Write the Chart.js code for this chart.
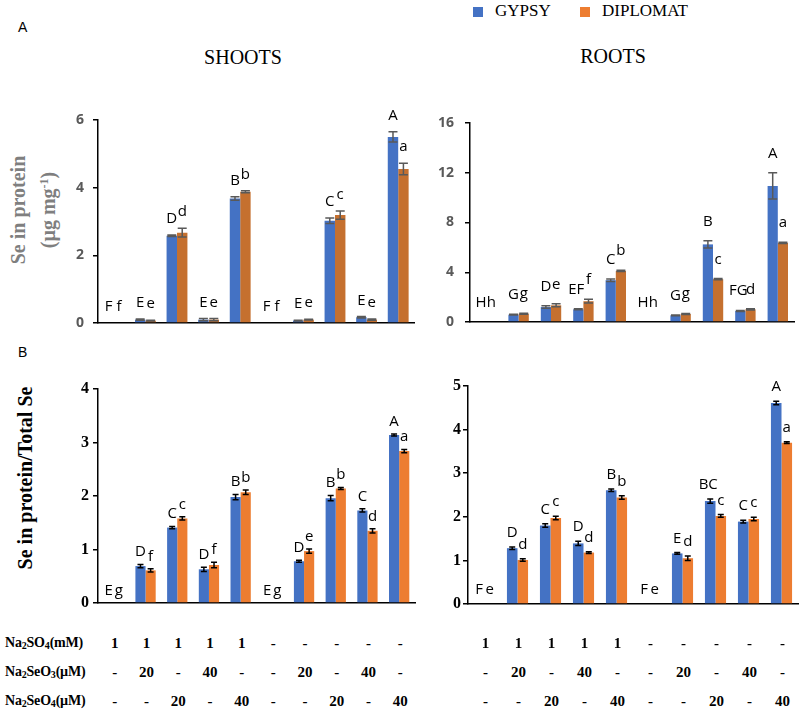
<!DOCTYPE html>
<html>
<head>
<meta charset="utf-8">
<script src="https://cdn.jsdelivr.net/npm/chart.js@4.4.1/dist/chart.umd.min.js"></script>
<style>
  html, body { margin: 0; padding: 0; background: #fff; overflow: hidden; }
  #wrap { position: relative; width: 800px; height: 711px; }
  #wrap canvas { position: absolute; }
  .txt { position: absolute; white-space: nowrap; }
  .serif { font-family: "Liberation Serif", "Times New Roman", serif; }
  .rot { transform: translate(-50%, -50%) rotate(-90deg); text-align: center; }
  .cell { position: absolute; transform: translate(-50%, -50%); font: bold 15px "Liberation Serif", serif; color: #000; }
  .rowlab { position: absolute; transform: translateY(-50%); font: bold 14px "Liberation Serif", serif; color: #000; letter-spacing: -0.2px; }
  .sq { position: absolute; width: 10px; height: 10px; }
</style>
</head>
<body>
<div id="wrap">
  <div class="txt" style="left:18px;top:19px;font:14px 'Liberation Sans',sans-serif;">A</div>
  <div class="txt" style="left:18px;top:344px;font:14px 'Liberation Sans',sans-serif;">B</div>
  <div class="txt serif" style="left:243px;top:57px;font-size:20px;transform:translate(-50%,-50%);">SHOOTS</div>
  <div class="txt serif" style="left:613px;top:56px;font-size:20px;transform:translate(-50%,-50%);">ROOTS</div>

  <div class="sq" style="left:473px;top:7px;background:#4472C4;"></div>
  <div class="txt serif" style="left:495px;top:1px;font-size:17px;">GYPSY</div>
  <div class="sq" style="left:580px;top:7px;background:#ED7D31;"></div>
  <div class="txt serif" style="left:602px;top:1px;font-size:17px;">DIPLOMAT</div>

  <div class="txt serif rot" style="left:33px;top:210px;font-size:20px;font-weight:bold;color:#7f7f7f;line-height:26px;">Se in protein<br>(µg mg<sup style="font-size:12px;">-1</sup>)</div>
  <div class="txt serif rot" style="left:25px;top:478px;font-size:20px;font-weight:bold;color:#000;">Se in protein/Total Se</div>
</div>
<script>
// treatments (table under the charts)
const na2so4 = ['1', '1', '1', '1', '1', '-', '-', '-', '-', '-'];
const na2seo3 = ['-', '20', '-', '40', '-', '-', '20', '-', '40', '-'];
const na2seo4 = ['-', '-', '20', '-', '40', '-', '-', '20', '-', '40'];
const treatments = ['T1', 'T2', 'T3', 'T4', 'T5', 'T6', 'T7', 'T8', 'T9', 'T10'];

// A - Se in protein, shoots
const shootsProtGypsy = [0, 0.10, 2.58, 0.10, 3.68, 0, 0.07, 3.02, 0.17, 5.50];
const shootsProtGypsyErr = [0, 0.02, 0.02, 0.03, 0.05, 0, 0.01, 0.08, 0.02, 0.15];
const shootsProtDiplomat = [0, 0.07, 2.67, 0.10, 3.88, 0, 0.10, 3.19, 0.10, 4.55];
const shootsProtDiplomatErr = [0, 0.01, 0.13, 0.03, 0.03, 0, 0.01, 0.12, 0.02, 0.17];
const shootsProtLettersG = ['F', 'E', 'D', 'E', 'B', 'F', 'E', 'C', 'E', 'A'];
const shootsProtLettersD = ['f', 'e', 'd', 'e', 'b', 'f', 'e', 'c', 'e', 'a'];

// A - Se in protein, roots
const rootsProtGypsy = [0, 0.59, 1.20, 1.02, 3.36, 0, 0.54, 6.24, 0.89, 10.94];
const rootsProtGypsyErr = [0, 0.03, 0.10, 0.04, 0.10, 0, 0.03, 0.30, 0.04, 1.05];
const rootsProtDiplomat = [0, 0.67, 1.34, 1.67, 4.11, 0, 0.65, 3.44, 1.02, 6.37];
const rootsProtDiplomatErr = [0, 0.04, 0.12, 0.15, 0.05, 0, 0.04, 0.05, 0.05, 0.05];
const rootsProtLettersG = ['H', 'G', 'D', 'EF', 'C', 'H', 'G', 'B', 'FG', 'A'];
const rootsProtLettersD = ['h', 'g', 'e', 'f', 'b', 'h', 'g', 'c', 'd', 'a'];

// B - Se in protein / total Se, shoots
const shootsRatioGypsy = [0, 0.69, 1.41, 0.63, 1.98, 0, 0.78, 1.96, 1.73, 3.14];
const shootsRatioGypsyErr = [0, 0.03, 0.02, 0.04, 0.05, 0, 0.02, 0.05, 0.03, 0.02];
const shootsRatioDiplomat = [0, 0.61, 1.58, 0.71, 2.07, 0, 0.97, 2.14, 1.35, 2.84];
const shootsRatioDiplomatErr = [0, 0.03, 0.03, 0.05, 0.04, 0, 0.04, 0.02, 0.04, 0.03];
const shootsRatioLettersG = ['E', 'D', 'C', 'D', 'B', 'E', 'D', 'B', 'C', 'A'];
const shootsRatioLettersD = ['g', 'f', 'c', 'f', 'b', 'g', 'e', 'b', 'd', 'a'];

// B - Se in protein / total Se, roots
const rootsRatioGypsy = [0, 1.28, 1.80, 1.39, 2.61, 0, 1.16, 2.36, 1.89, 4.61];
const rootsRatioGypsyErr = [0, 0.03, 0.04, 0.05, 0.03, 0, 0.02, 0.05, 0.03, 0.04];
const rootsRatioDiplomat = [0, 1.01, 1.97, 1.18, 2.44, 0, 1.05, 2.02, 1.95, 3.70];
const rootsRatioDiplomatErr = [0, 0.03, 0.04, 0.02, 0.04, 0, 0.05, 0.03, 0.04, 0.02];
const rootsRatioLettersG = ['F', 'D', 'C', 'D', 'B', 'F', 'E', 'BC', 'C', 'A'];
const rootsRatioLettersD = ['e', 'd', 'c', 'd', 'b', 'e', 'd', 'c', 'c', 'a'];

const BLUE = '#4472C4';
const wrap = document.getElementById('wrap');

// error bars + significance letters
const marksPlugin = {
  id: 'marks',
  afterDatasetsDraw(chart, args, opts) {
    const ctx = chart.ctx, y = chart.scales.y;
    ctx.save();
    chart.data.datasets.forEach((ds, i) => {
      chart.getDatasetMeta(i).data.forEach((bar, j) => {
        const v = ds.data[j], e = ds.errors[j];
        if (e > 0) {
          const hi = y.getPixelForValue(v + e), lo = y.getPixelForValue(v - e);
          ctx.strokeStyle = opts.errColor;
          ctx.lineWidth = 1.5;
          ctx.beginPath();
          ctx.moveTo(bar.x, hi); ctx.lineTo(bar.x, lo);
          ctx.moveTo(bar.x - opts.cap / 2, hi); ctx.lineTo(bar.x + opts.cap / 2, hi);
          ctx.moveTo(bar.x - opts.cap / 2, lo); ctx.lineTo(bar.x + opts.cap / 2, lo);
          ctx.stroke();
        }
        const top = y.getPixelForValue(v + e);
        ctx.fillStyle = '#000';
        ctx.font = '15px "Open Sans", sans-serif';
        ctx.textAlign = 'center';
        ctx.textBaseline = 'alphabetic';
        // two-letter groups sit a little left so they don't run into the next letter
        const shift = ds.letters[j].length > 1 ? -2 : 0;
        ctx.fillText(ds.letters[j], bar.x + shift, Math.min(top - opts.gap, y.bottom - opts.floor));
      });
    });
    ctx.restore();
  }
};

function makePanel(cfg) {
  // bottom padding kept larger than the y tick label overhang so the axis lands exactly
  const yw = 60, padTop = 30, padBottom = 24, padRight = 4;
  const left = cfg.axisX - yw, top = cfg.top - padTop;
  const w = cfg.right - left + padRight, h = cfg.bottom - top + padBottom;
  const canvas = document.createElement('canvas');
  canvas.width = w; canvas.height = h;
  canvas.style.left = left + 'px'; canvas.style.top = top + 'px';
  wrap.appendChild(canvas);
  const chart = new Chart(canvas, {
    type: 'bar',
    data: {
      labels: treatments,
      datasets: [
        { label: 'GYPSY', data: cfg.g, errors: cfg.gErr, letters: cfg.gL, backgroundColor: BLUE },
        { label: 'DIPLOMAT', data: cfg.d, errors: cfg.dErr, letters: cfg.dL, backgroundColor: cfg.orange }
      ]
    },
    options: {
      responsive: false,
      maintainAspectRatio: false,
      animation: false,
      devicePixelRatio: 1,
      layout: { padding: { top: padTop, bottom: padBottom, right: padRight, left: 0 } },
      datasets: { bar: { categoryPercentage: cfg.cat, barPercentage: 1, borderWidth: 0 } },
      plugins: {
        legend: { display: false },
        tooltip: { enabled: false },
        marks: { errColor: cfg.errColor, cap: cfg.cap, gap: cfg.gap, floor: cfg.floor }
      },
      scales: {
        x: {
          grid: { display: false },
          border: { display: true, color: '#000', width: 1.5 },
          ticks: { display: false },
          afterFit: s => { s.height = 0; }
        },
        y: {
          min: 0, max: cfg.max,
          ticks: { stepSize: cfg.step, font: cfg.tickFont, color: cfg.tickColor, padding: cfg.tickPad },
          grid: { display: true, drawOnChartArea: false, drawTicks: true, tickLength: 5, color: '#000', lineWidth: 1.5 },
          border: { display: true, color: '#000', width: 1.5 },
          afterFit: s => { s.width = yw; }
        }
      }
    },
    plugins: [marksPlugin]
  });
  chart.$left = left;
  return chart;
}

const fontA = { family: '"Open Sans", sans-serif', size: 14, weight: 'bold' };
const fontB = { family: '"Liberation Serif", serif', size: 16, weight: 'bold' };

makePanel({
  axisX: 98, top: 120, bottom: 323, right: 414, max: 6, step: 2, cat: 0.66,
  g: shootsProtGypsy, gErr: shootsProtGypsyErr, gL: shootsProtLettersG,
  d: shootsProtDiplomat, dErr: shootsProtDiplomatErr, dL: shootsProtLettersD,
  orange: '#C5702F', errColor: '#595959', cap: 9, gap: 12, floor: 4,
  tickFont: fontA, tickColor: '#595959', tickPad: 9
});
makePanel({
  axisX: 470, top: 123, bottom: 322, right: 794, max: 16, step: 4, cat: 0.63,
  g: rootsProtGypsy, gErr: rootsProtGypsyErr, gL: rootsProtLettersG,
  d: rootsProtDiplomat, dErr: rootsProtDiplomatErr, dL: rootsProtLettersD,
  orange: '#C5702F', errColor: '#595959', cap: 9, gap: 15, floor: 4,
  tickFont: fontA, tickColor: '#595959', tickPad: 11
});
const shootsB = makePanel({
  axisX: 98, top: 389, bottom: 603, right: 415, max: 4, step: 1, cat: 0.64,
  g: shootsRatioGypsy, gErr: shootsRatioGypsyErr, gL: shootsRatioLettersG,
  d: shootsRatioDiplomat, dErr: shootsRatioDiplomatErr, dL: shootsRatioLettersD,
  orange: '#ED7D31', errColor: '#000', cap: 6, gap: 8, floor: 6,
  tickFont: fontB, tickColor: '#000', tickPad: 4
});
const rootsB = makePanel({
  axisX: 468, top: 386, bottom: 604, right: 798, max: 5, step: 1, cat: 0.64,
  g: rootsRatioGypsy, gErr: rootsRatioGypsyErr, gL: rootsRatioLettersG,
  d: rootsRatioDiplomat, dErr: rootsRatioDiplomatErr, dL: rootsRatioLettersD,
  orange: '#ED7D31', errColor: '#000', cap: 6, gap: 10, floor: 6,
  tickFont: fontB, tickColor: '#000', tickPad: 2
});

// treatment table, columns follow the bottom charts' x scales
const rows = [
  { label: 'Na<sub>2</sub>SO<sub>4</sub>(mM)', vals: na2so4, y: 643 },
  { label: 'Na<sub>2</sub>SeO<sub>3</sub>(µM)', vals: na2seo3, y: 672 },
  { label: 'Na<sub>2</sub>SeO<sub>4</sub>(µM)', vals: na2seo4, y: 701 }
];
rows.forEach(r => {
  const lab = document.createElement('div');
  lab.className = 'rowlab';
  lab.style.left = '5px'; lab.style.top = r.y + 'px';
  lab.innerHTML = r.label.replace(/<sub>/g, '<sub style="font-size:10px;vertical-align:-2px">');
  wrap.appendChild(lab);
  [shootsB, rootsB].forEach(ch => {
    r.vals.forEach((v, j) => {
      const c = document.createElement('div');
      c.className = 'cell';
      c.style.left = (ch.$left + ch.scales.x.getPixelForValue(j) + 1) + 'px';
      c.style.top = r.y + 'px';
      c.textContent = v;
      wrap.appendChild(c);
    });
  });
});
</script>
</body>
</html>
